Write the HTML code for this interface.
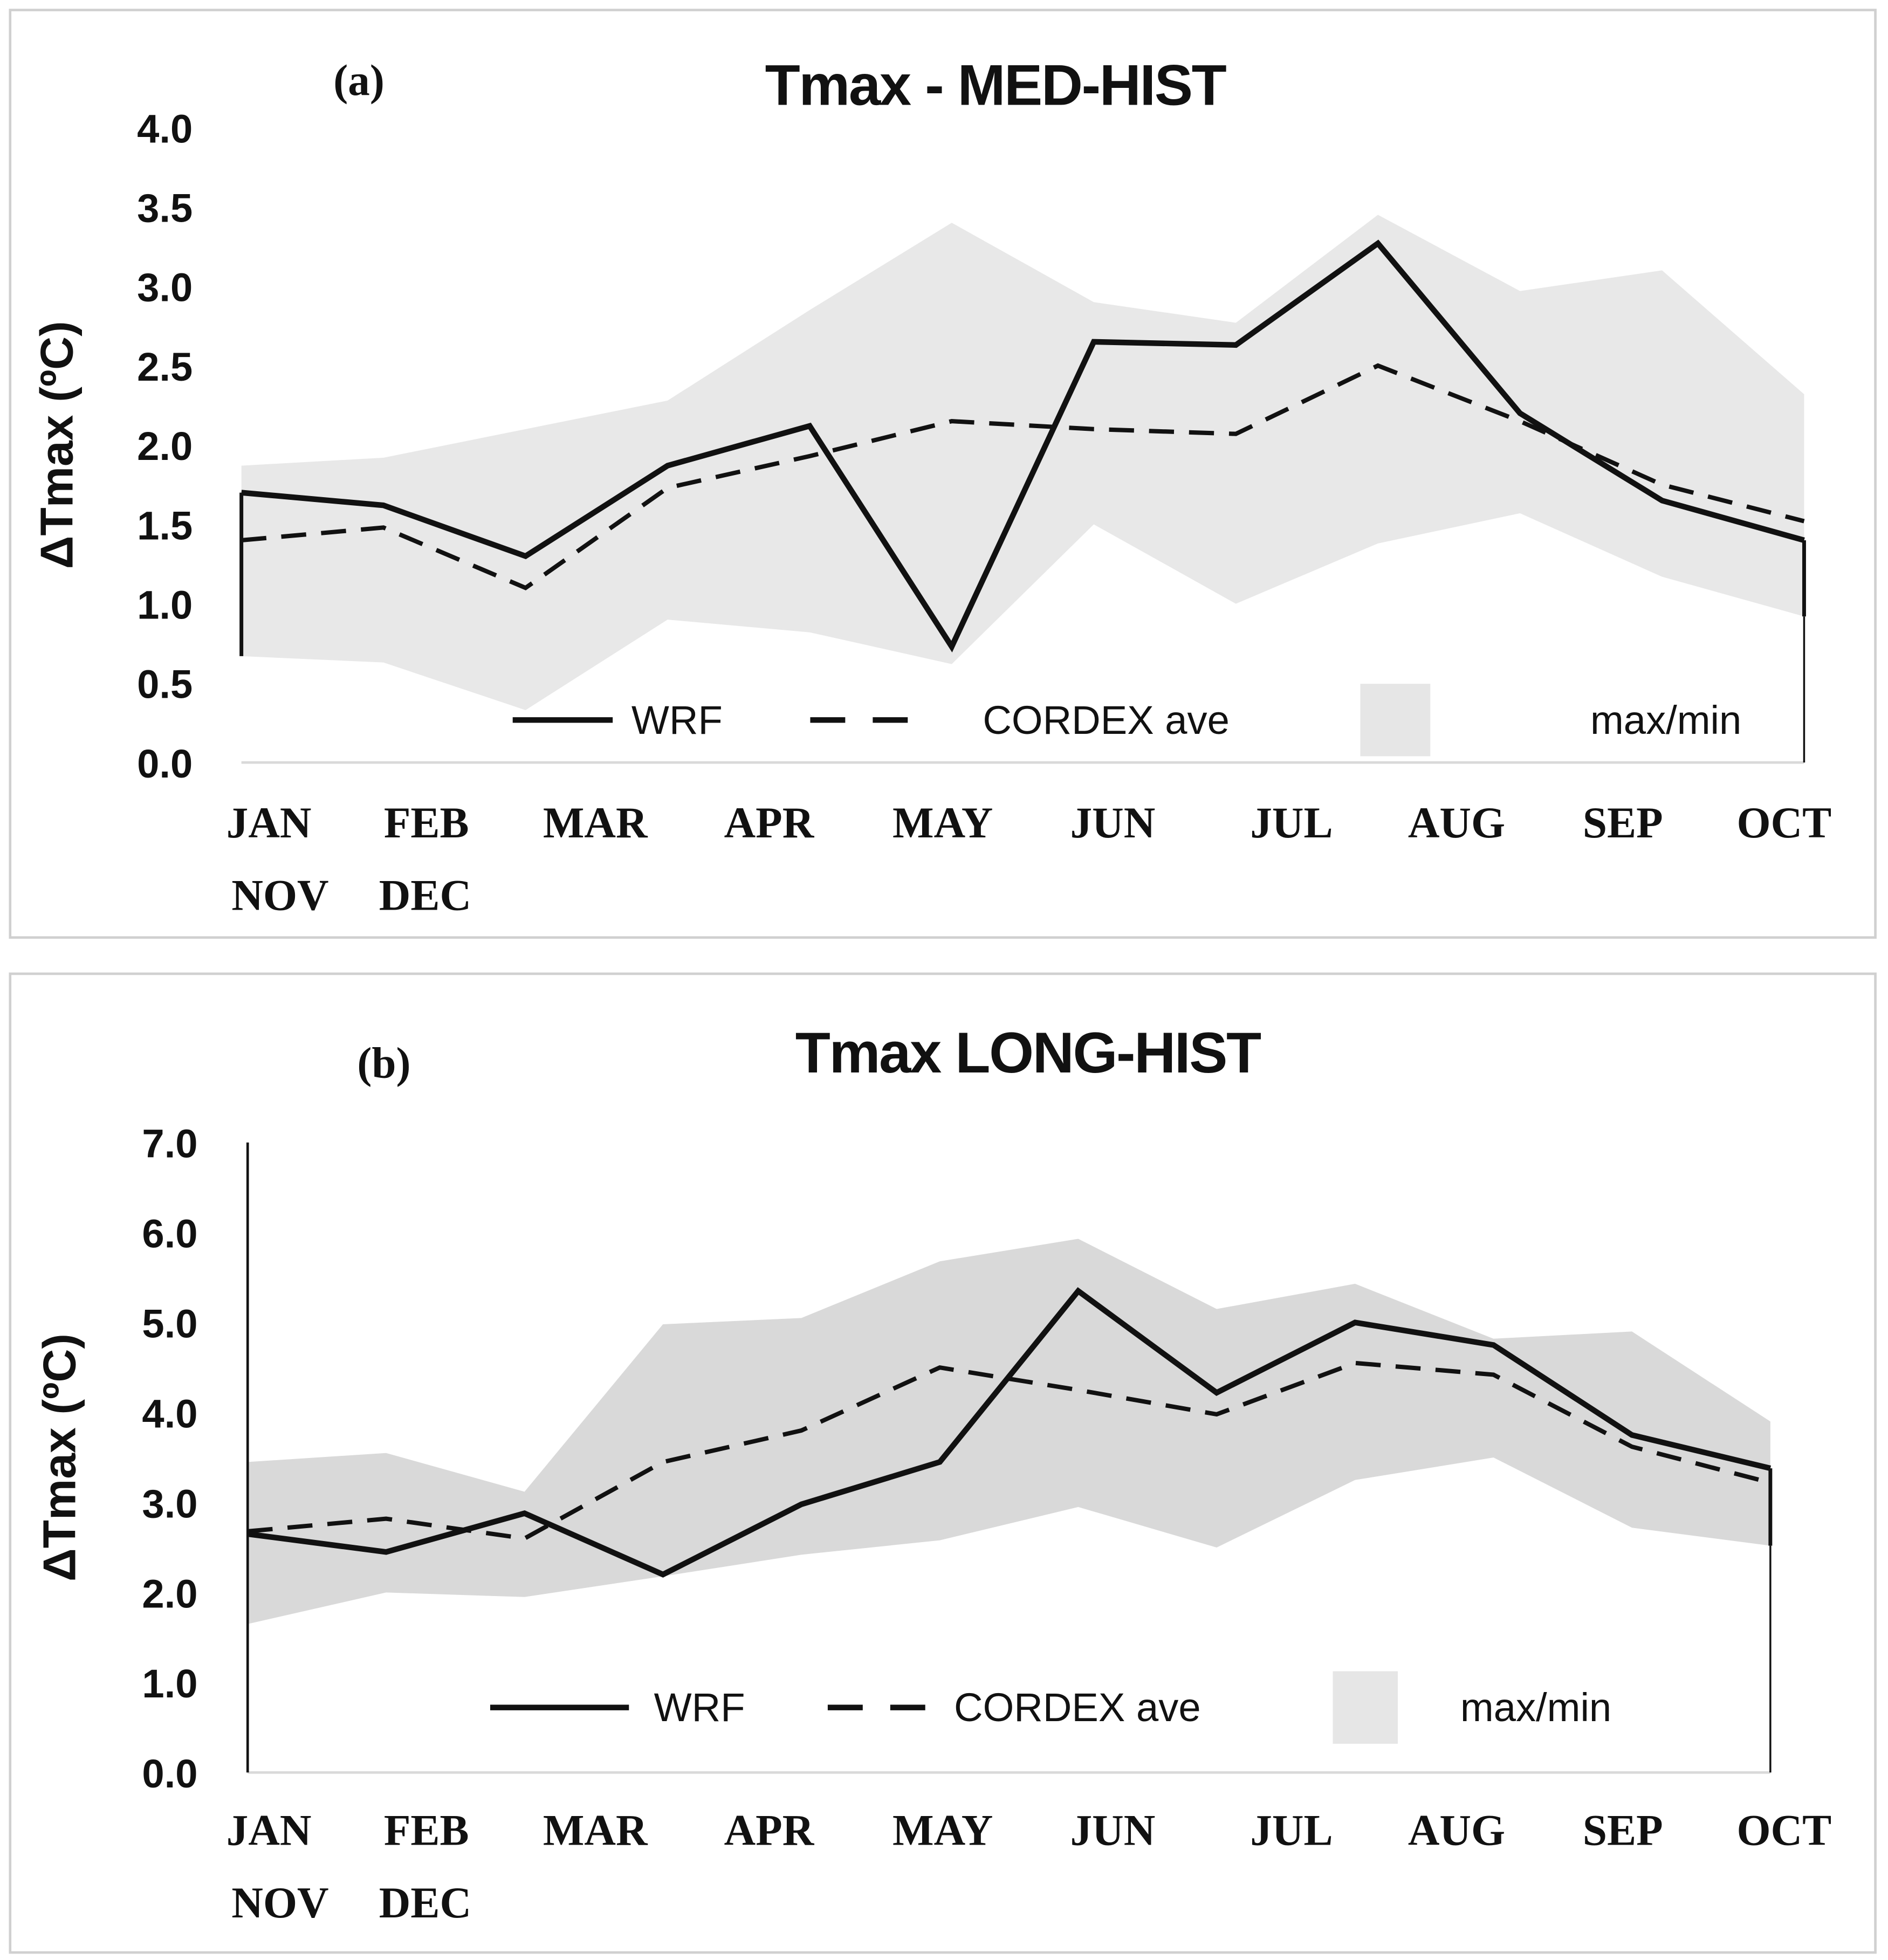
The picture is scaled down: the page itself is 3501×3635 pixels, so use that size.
<!DOCTYPE html>
<html><head><meta charset="utf-8"><style>
html,body{margin:0;padding:0;background:#fff}
svg{display:block}
.tk{font-family:"Liberation Sans",sans-serif;font-weight:bold;font-size:32px;fill:#111}
.cat{font-family:"Liberation Serif",serif;font-weight:bold;font-size:35px;fill:#111}
.ttl{font-family:"Liberation Sans",sans-serif;font-weight:bold;font-size:46px;fill:#111;letter-spacing:-1px}
.yt{font-family:"Liberation Sans",sans-serif;font-weight:bold;font-size:37px;fill:#111}
.lg{font-family:"Liberation Sans",sans-serif;font-size:32px;fill:#111}
.pl{font-family:"Liberation Serif",serif;font-weight:bold;font-size:35px;fill:#111}
</style></head><body>
<svg id="chart" width="3501" height="3635" viewBox="0 0 1510 1568" xmlns="http://www.w3.org/2000/svg">
<rect x="8" y="8" width="1492" height="742" fill="#fff" stroke="#d0d0d0" stroke-width="2"/>
<rect x="8" y="779" width="1492" height="783" fill="#fff" stroke="#d0d0d0" stroke-width="2"/>
<g id="pa"></g>
<g id="pb"></g>
</svg>
<script>
const catsTop=["JAN","FEB","MAR","APR","MAY","JUN","JUL","AUG","SEP","OCT"];
const catsBottom=["NOV","DEC"];
const wrfA=[1.7,1.62,1.3,1.87,2.12,0.73,2.65,2.63,3.27,2.2,1.65,1.4];
const cordexA=[1.4,1.48,1.1,1.73,1.93,2.15,2.1,2.07,2.5,2.15,1.75,1.52];
const maxA=[1.87,1.92,2.1,2.28,2.85,3.4,2.9,2.77,3.45,2.97,3.1,2.32];
const minA=[0.67,0.63,0.33,0.9,0.82,0.62,1.5,1.0,1.38,1.57,1.17,0.92];
const ticksA=["0.0","0.5","1.0","1.5","2.0","2.5","3.0","3.5","4.0"];
const wrfB=[2.65,2.45,2.88,2.2,2.98,3.45,5.35,4.22,5.0,4.75,3.75,3.38];
const cordexB=[2.68,2.82,2.6,3.45,3.8,4.5,4.25,3.98,4.55,4.42,3.62,3.22];
const maxB=[3.45,3.55,3.12,4.98,5.05,5.68,5.93,5.15,5.43,4.82,4.9,3.9];
const minB=[1.65,2.0,1.95,2.18,2.42,2.58,2.95,2.5,3.25,3.5,2.72,2.52];
const ticksB=["0.0","1.0","2.0","3.0","4.0","5.0","6.0","7.0"];
const NS="http://www.w3.org/2000/svg";
function mk(p,t,a,txt){const e=document.createElementNS(NS,t);for(const k in a)e.setAttribute(k,a[k]);if(txt!==undefined)e.textContent=txt;p.appendChild(e);return e;}
function draw(g,o){
 const n=o.wrf.length;
 const X=i=>o.x0+(o.x1-o.x0)*i/(n-1);
 const Y=v=>o.y0-(o.y0-o.y1)*v/o.vmax;
 o.ticks.forEach(t=>{const e=mk(g,"text",{x:o.tx,y:Y(parseFloat(t))+12,"text-anchor":"end",class:"tk"},t);
 
 });
 let d="M"+o.max.map((v,i)=>X(i)+","+Y(v)).join(" L");
 for(let i=n-1;i>=0;i--)d+=" L"+X(i)+","+Y(o.min[i]);
 const band=mk(g,"path",{d:d+"Z",fill:o.fill});
 
 
 const bl=mk(g,"line",{x1:o.x0,x2:o.x1,y1:o.y0,y2:o.y0,stroke:"#d9d9d9","stroke-width":2});
 
 
 if(o.leftAxis){const la=mk(g,"line",{x1:X(0),x2:X(0),y1:o.y1,y2:o.y0,stroke:"#111","stroke-width":2});
 
 }
 else{const le=mk(g,"line",{x1:X(0),x2:X(0),y1:Y(o.wrf[0]),y2:Y(o.min[0]),stroke:"#111","stroke-width":3});
 
 }
 const re=mk(g,"line",{x1:X(n-1),x2:X(n-1),y1:Y(o.wrf[n-1]),y2:Y(o.min[n-1]),stroke:"#111","stroke-width":3});
 
 
 const rt=mk(g,"line",{x1:X(n-1),x2:X(n-1),y1:Y(o.min[n-1]),y2:o.y0,stroke:"#111","stroke-width":1.5});
 
 
 const c=mk(g,"polyline",{points:o.cordex.map((v,i)=>X(i)+","+Y(v)).join(" "),fill:"none",stroke:"#111","stroke-width":3.5,"stroke-dasharray":"20,12"});
 
 
 const w=mk(g,"polyline",{points:o.wrf.map((v,i)=>X(i)+","+Y(v)).join(" "),fill:"none",stroke:"#111","stroke-width":4.5,"stroke-linejoin":"miter"});
 
 
 const cx=[215,341,476,615,754,890,1033,1165,1298,1427];
 catsTop.forEach((t,i)=>{const e=mk(g,"text",{x:cx[i],y:o.cy,"text-anchor":"middle",class:"cat"},t);
 
 });
 catsBottom.forEach((t,i)=>{const e=mk(g,"text",{x:[224,340][i],y:o.cy+58,"text-anchor":"middle",class:"cat"},t);
 
 });
 const tt=mk(g,"text",{x:o.titleX,y:o.titleY,"text-anchor":"middle",class:"ttl"},o.title);
 
 
 const pl=mk(g,"text",{x:o.plX,y:o.plY,"text-anchor":"middle",class:"pl"},o.panel);
 
 
 const ym=(o.y0+o.y1)/2;
 const yt=mk(g,"text",{x:0,y:0,transform:"translate("+o.ytX+","+ym+") rotate(-90)","text-anchor":"middle",class:"yt"},"\u0394Tmax (\u00baC)");
 
 
 const L=o.leg;
 const l1=mk(g,"line",{x1:L.w1,x2:L.w2,y1:L.y,y2:L.y,stroke:"#111","stroke-width":4.5});
 
 
 const t1=mk(g,"text",{x:L.wt,y:L.y+11,class:"lg"},"WRF");
 
 
 const l2=mk(g,"line",{x1:L.c1,x2:L.c2,y1:L.y,y2:L.y,stroke:"#111","stroke-width":4.5,"stroke-dasharray":"28,22"});
 
 
 const t2=mk(g,"text",{x:L.ct,y:L.y+11,class:"lg"},"CORDEX ave");
 
 
 const r=mk(g,"rect",{x:L.bx,y:L.y-29,width:L.bw,height:58,fill:L.bf});
 
 
 const t3=mk(g,"text",{x:L.mt,y:L.y+11,class:"lg"},"max/min");
 
 
}
draw(document.getElementById("pa"),{wrf:wrfA,cordex:cordexA,max:maxA,min:minA,ticks:ticksA,vmax:4,x0:193,x1:1443,y0:610,y1:102,tx:154,fill:"#e8e8e8",leftAxis:false,cy:670,title:"Tmax - MED-HIST",titleX:796,titleY:84,panel:"(a)",plX:287,plY:76,ytX:58,
 leg:{y:576,w1:410,w2:490,wt:505,c1:648,c2:728,ct:786,bx:1088,bw:56,bf:"#e6e6e6",mt:1272}});
draw(document.getElementById("pb"),{wrf:wrfB,cordex:cordexB,max:maxB,min:minB,ticks:ticksB,vmax:7,x0:198,x1:1416,y0:1418,y1:914,tx:158,fill:"#d9d9d9",leftAxis:true,cy:1476,title:"Tmax LONG-HIST",titleX:822,titleY:858,panel:"(b)",plX:307,plY:862,ytX:60,
 leg:{y:1366,w1:392,w2:503,wt:523,c1:662,c2:742,ct:763,bx:1066,bw:52,bf:"#e6e6e6",mt:1168}});
</script>
</body></html>
